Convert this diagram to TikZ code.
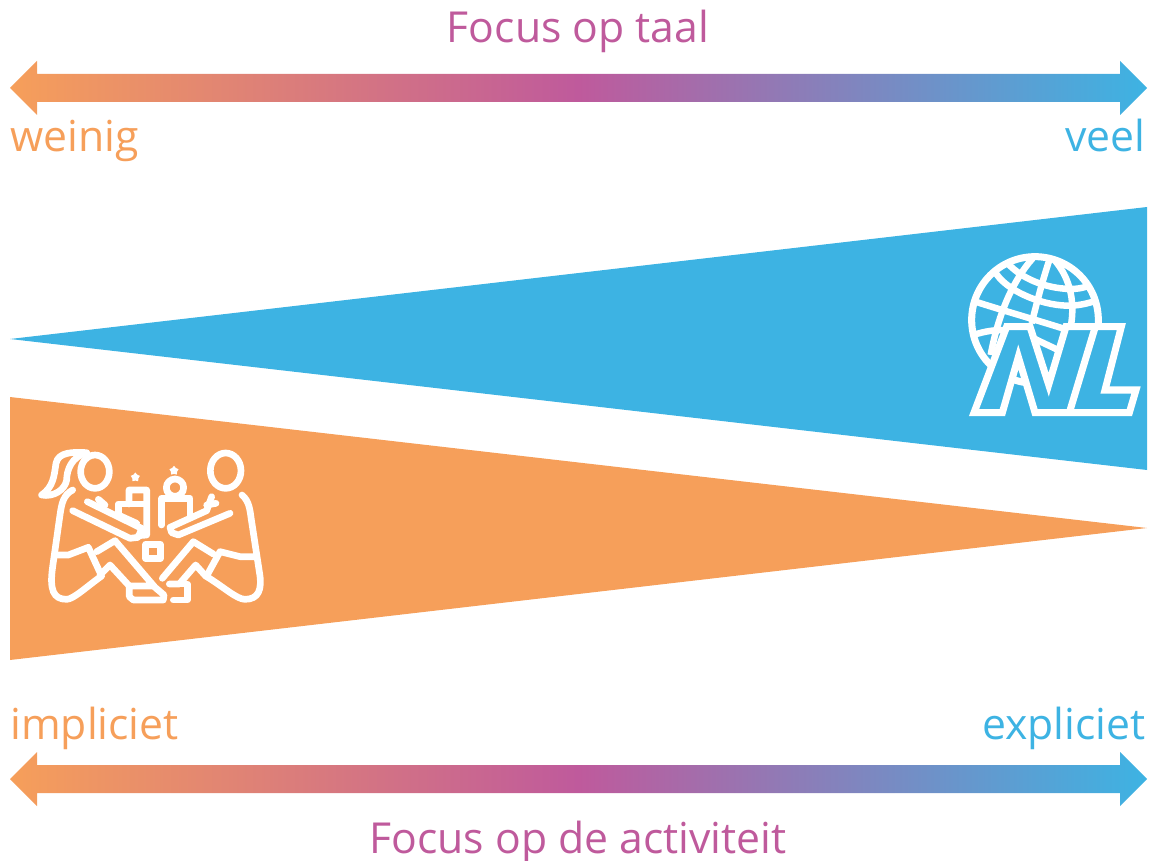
\documentclass[tikz,border=0pt]{standalone}
\usepackage{fontspec}
\setmainfont{Open Sans}
\usetikzlibrary{shapes.geometric}

\definecolor{focusorange}{HTML}{F69F5A}
\definecolor{focuspink}{HTML}{BF5A9C}
\definecolor{focusblue}{HTML}{3DB3E3}

\tikzset{
    focuslabel/.style={font=\fontsize{24.3pt}{30pt}\selectfont, inner sep=0pt},
    focusbar/.style={left color=focusorange, right color=focusblue, middle color=focuspink},
    globeline/.style={draw=white, line width=3.7pt},
    kidline/.style={draw=white, line width=3.8pt, line cap=round, line join=round},
    kidstar/.style={star, star points=5, fill=white, inner sep=0pt, minimum size=5.5pt}
}

\begin{document}
\begin{tikzpicture}[x=0.02cm, y=-0.02cm]
    \useasboundingbox (0,0) rectangle (1155,861);

    \node [focuslabel, text=focuspink, anchor=base] (taal) at (578,43) {Focus op taal};
    \node [focuslabel, text=focusorange, anchor=base west] (weinig) at (10,152) {weinig};
    \node [focuslabel, text=focusblue, anchor=base east] (veel) at (1146,152) {veel};
    \node [focuslabel, text=focusorange, anchor=base west] (impliciet) at (10,739) {impliciet};
    \node [focuslabel, text=focusblue, anchor=base east] (expliciet) at (1146,739) {expliciet};
    \node [focuslabel, text=focuspink, anchor=base] (activiteit) at (578,853) {Focus op de activiteit};

    \foreach \y in {88,779} {
        \shade [focusbar] (10,\y) -- (37,\y-27) -- (37,\y-14) -- (1120,\y-14) -- (1120,\y-27)
            -- (1147,\y) -- (1120,\y+27) -- (1120,\y+14) -- (37,\y+14) -- (37,\y+27) -- cycle;
    }

    \fill [focusblue] (10,339) -- (1147,207) -- (1147,470) -- cycle;
    \fill [focusorange] (10,397) -- (1147,528) -- (10,660) -- cycle;

    \begin{scope}[shift={(950,240)}, x=0.00667cm, y=-0.00667cm]
        \begin{scope}
            \clip (255,240) circle [radius=190];
            \draw [globeline] (70,183) .. controls (160,212) and (260,240) .. (360,272);
            \draw [globeline] (135,95) .. controls (165,150) and (270,195) .. (350,197)
                .. controls (385,198) and (415,190) .. (445,180);
            \draw [globeline] (175,72) .. controls (215,115) and (285,145) .. (360,147)
                .. controls (380,147) and (395,145) .. (415,138);
            \draw [globeline] (70,285) .. controls (140,262) and (200,265) .. (265,302) -- (335,335);
            \draw [globeline] (248,55) .. controls (190,120) and (145,220) .. (122,345);
            \draw [globeline] (298,60) .. controls (275,130) and (260,190) .. (245,250);
            \draw [globeline] (315,62) .. controls (360,115) and (380,190) .. (358,280);
        \end{scope}
        \draw [white, line width=4pt] (255,240) circle [radius=190];
        \draw [white, line width=4pt, fill=focusblue, miter limit=10]
            (72,518) -- (170,260) -- (240,260) -- (296,434) -- (348,260) -- (514,260) -- (465,450)
            -- (558,450) -- (538,518) -- (255,518) -- (205,351) -- (157,518) -- cycle;
        \draw [white, line width=4pt] (436,260) -- (358,518);
    \end{scope}

    \begin{scope}[shift={(30,440)}, x=0.00667cm, y=-0.00667cm]
        \draw [kidline] (195,95) ellipse [x radius=43, y radius=50];
        \draw [kidline] (587,92) ellipse [x radius=46, y radius=53];
        \draw [kidline] (170,38) .. controls (130,36) and (85,35) .. (78,70)
            .. controls (72,110) and (70,140) .. (35,165)
            .. controls (70,172) and (105,150) .. (110,120)
            .. controls (110,90) and (125,50) .. (170,38);
        \draw [kidline] (128,150) .. controls (100,165) and (95,190) .. (90,225)
            -- (68,380) .. controls (58,450) and (70,478) .. (110,478)
            .. controls (130,478) and (170,440) .. (215,408);
        \draw [kidline] (78,345) -- (115,345) -- (175,322) -- (212,402);
        \draw [kidline] (200,335) -- (255,302) -- (375,442) -- (402,465) -- (400,480) -- (310,480)
            -- (298,470) -- (298,438) -- (372,438);
        \draw [kidline] (210,405) -- (240,375) -- (298,438);
        \draw [kidline] (636,165) .. controls (660,185) and (660,215) .. (665,245)
            -- (688,395) .. controls (698,450) and (685,478) .. (645,478)
            .. controls (620,478) and (580,440) .. (527,408);
        \draw [kidline] (672,350) -- (630,350) -- (570,335) -- (530,408);
        \draw [kidline] (397,415) -- (490,305) -- (550,342);
        \draw [kidline] (527,408) -- (497,375) -- (448,432) -- (418,432);
        \draw [kidline] (448,432) -- (472,432) -- (472,480) -- (430,480);
        \draw [kidline] (128,212) -- (300,295) -- (325,292) -- (335,265) -- (172,185);
        \draw [kidline] (205,178) -- (225,195);
        \draw [kidline] (600,220) -- (445,285) -- (425,278) -- (420,262) -- (530,212);
        \draw [kidline] (530,212) -- (545,170);
        \draw [kidline] (530,195) -- (558,190);
        \draw [kidline] (265,225) -- (265,192) -- (350,192);
        \draw [kidline] (297,192) -- (297,150) -- (350,150) -- (350,285) -- (325,287);
        \draw [kidline] (265,225) -- (320,250);
        \draw [kidline] (435,143) circle [radius=26];
        \draw [kidline] (395,255) -- (395,175) -- (480,175) -- (480,232);
        \draw [kidline] (347,313) rectangle (391,355);
        \node [kidstar] (leftstar) at (316,112) {};
        \node [kidstar] (rightstar) at (432,92) {};
    \end{scope}
\end{tikzpicture}
\end{document}
